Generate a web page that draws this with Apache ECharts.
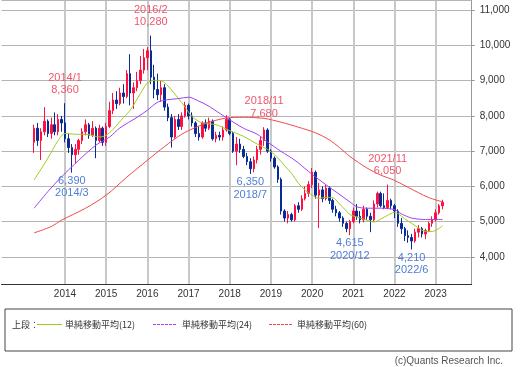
<!DOCTYPE html>
<html><head><meta charset="utf-8">
<script src="https://cdn.jsdelivr.net/npm/echarts@6/dist/echarts.min.js"></script>
<style>html,body{margin:0;padding:0;background:#fff}#c{width:529px;height:367px}</style>
</head><body><div id="c"></div>
<script>
// ---- categories (monthly, 2013/4 .. 2023/3) ----
function monthName(y, m) { return y + '/' + m; }
function monthRange(y0, m0, n) {
  const out = [];
  for (let k = 0; k < n; k++) { const t = m0 - 1 + k; out.push(monthName(y0 + Math.floor(t / 12), (t % 12) + 1)); }
  return out;
}
const months = monthRange(2013, 4, 120);
const padBefore = monthRange(2012, 7, 9);
const padAfter = monthRange(2023, 4, 8);

// ---- OHLC ----
const opens = [7250,7650,7300,7550,7850,7500,7750,7550,7900,7800,7350,7100,6900,7050,7300,7550,7750,7450,7650,7300,
7650,7250,7700,8150,8450,8350,8650,8550,9200,8650,8800,9000,9300,9650,9850,9100,8750,8600,8800,8250,
7950,7400,7900,7700,8000,8300,8000,7800,7500,7400,7800,7650,7850,7350,7450,7400,7600,7900,7500,7000,
7200,7050,6850,6700,6500,6750,7050,7300,7600,7000,6800,6550,6200,5300,5100,5200,5050,5450,5350,5650,
5800,6050,6400,5750,5900,5650,5950,5600,5350,5250,5100,4950,4800,5000,5300,5150,5050,5350,5150,5050,
5500,5800,5450,5400,5600,5450,5300,4950,4800,4600,4550,4450,4700,4800,4650,4750,4950,5050,5250,5450];
const closes = [7650,7300,7550,7850,7500,7750,7550,7900,7800,7350,7100,6900,7050,7300,7550,7750,7450,7650,7300,7650,
7250,7700,8150,8450,8350,8650,8550,9200,8650,8800,9000,9300,9650,9850,9100,8750,8600,8800,8250,7950,
7400,7900,7700,8000,8300,8000,7800,7500,7400,7800,7650,7850,7350,7450,7400,7600,7900,7500,7000,7200,
7050,6850,6700,6500,6750,7050,7300,7600,7000,6800,6550,6200,5300,5100,5200,5050,5450,5350,5650,5800,
6050,6400,5750,5900,5650,5950,5600,5350,5250,5100,4950,4800,5000,5300,5150,5050,5350,5150,5050,5500,
5800,5450,5400,5600,5450,5300,4950,4800,4600,4550,4450,4700,4800,4650,4750,4950,5050,5250,5450,5550];
const highs = [7750,7800,7650,8250,7900,7950,8100,8050,8000,8360,7500,7200,7200,7350,7650,7900,7800,7850,7700,7750,
7700,7800,8400,8650,8700,8800,8900,9300,9750,8950,9250,9700,9900,9950,10280,9450,9200,9000,8900,8350,
8050,8000,8050,8100,8400,8350,8100,7850,7700,7850,7900,7950,7900,7550,7550,7700,8020,7950,7550,7400,
7350,7150,6950,6800,6850,7150,7400,7680,7650,7050,6850,6600,6250,5350,5300,5250,5500,5550,5750,6000,
6150,6520,6450,6100,6000,6050,6000,5650,5450,5300,5150,5000,5050,5400,5500,5300,5450,5400,5250,5600,
5850,5850,5800,6050,5650,5500,5350,5100,4850,4750,4650,4800,4900,4850,4800,5000,5150,5350,5500,5620];
const lows = [6950,7150,6750,7450,7400,7350,7450,7450,7550,7250,6950,6390,6650,6900,7200,7450,7350,7400,6800,7250,
7150,7150,7650,8050,8200,8300,8350,8500,8300,8200,8700,8900,9200,9300,8900,8500,8450,8400,8150,7850,
7100,7350,7600,7600,7950,7900,7700,7400,7300,7350,7550,7600,7300,7250,7300,7300,7550,7450,6950,6600,
6950,6800,6600,6350,6400,6650,6900,7150,6950,6700,6500,6100,5200,5000,4950,5000,5000,5250,5300,5600,
5700,5950,5650,4820,5550,5600,5500,5250,5150,5000,4850,4700,4615,4950,5050,4950,4980,5050,4700,5000,
5400,5400,5350,5350,5350,5100,4850,4650,4450,4400,4210,4400,4550,4550,4500,4700,4850,5000,5200,5350];

// ---- moving averages ----
const ma12 = [['2013/4',6180],['2013/8',6800],['2013/11',7300],['2014/1',7500],['2014/4',7480],['2014/8',7470],['2014/11',7400],
['2015/1',7450],['2015/3',7620],['2015/6',7950],['2015/8',8160],['2015/11',8640],['2016/1',8930],['2016/3',9010],['2016/5',9000],
['2016/7',8850],['2016/10',8500],['2016/12',8250],['2017/2',7980],['2017/5',7800],['2017/9',7750],['2018/1',7580],['2018/5',7420],
['2018/9',7200],['2018/12',7050],['2019/2',6900],['2019/4',6700],['2019/5',6580],['2019/7',6370],['2019/9',6090],['2019/11',5890],
['2020/1',5750],['2020/3',5660],['2020/5',5690],['2020/7',5680],['2020/9',5500],['2020/11',5300],['2020/12',5200],['2021/3',5100],
['2021/5',5040],['2021/7',4990],['2021/9',5070],['2021/11',5180],['2022/1',5260],['2022/2',5230],['2022/4',5080],['2022/6',4950],
['2022/8',4820],['2022/10',4720],['2022/12',4720],['2023/3',4880]];
const ma24 = [['2013/4',5380],['2013/8',5850],['2013/12',6270],['2014/5',6740],['2014/10',7170],['2015/2',7400],['2015/5',7660],
['2015/10',7960],['2016/1',8160],['2016/4',8390],['2016/7',8460],['2016/10',8490],['2017/1',8530],['2017/4',8420],['2017/7',8270],
['2017/12',7950],['2018/5',7650],['2018/9',7480],['2018/12',7260],['2019/4',6990],['2019/8',6740],['2019/12',6420],['2020/4',6120],
['2020/8',5840],['2020/12',5560],['2021/2',5420],['2021/5',5380],['2021/9',5380],['2022/1',5340],['2022/3',5220],['2022/6',5100],
['2022/10',5060],['2023/3',5060]];
const ma60 = [['2013/4',4680],['2013/9',4860],['2013/12',5040],['2014/7',5380],['2015/1',5750],['2015/7',6260],['2016/1',6740],
['2016/6',7130],['2016/11',7480],['2017/3',7670],['2017/7',7820],['2017/12',7940],['2018/5',7960],['2018/11',7930],['2019/4',7820],
['2019/9',7680],['2020/2',7520],['2020/6',7320],['2020/9',7100],['2020/12',6850],['2021/5',6520],['2021/9',6320],['2022/1',6170],
['2022/5',5970],['2022/8',5820],['2022/11',5680],['2023/3',5560]];

// ---- annotations ----
const highMarks = [['2014/1',8360],['2016/2',10280],['2018/11',7680],['2021/11',6050]];
const lowMarks = [['2014/3',6390],['2018/7',6350],['2020/12',4615],['2022/6',4210]];

const seriesNames = ['単純移動平均(12)','単純移動平均(24)','単純移動平均(60)'];
const maColors = ['#9acd1e','#a040f0','#f04848'];

const cats = padBefore.concat(months, padAfter);
const candleData = cats.map(c => {
  const k = months.indexOf(c);
  return k < 0 ? '-' : [opens[k], closes[k], lows[k], highs[k]];
});
const fmt = v => v.toLocaleString('en-US');
const isYearStart = (idx, v) => { const p = String(v).split('/'); return p[1] === '1' && +p[0] >= 2014 && +p[0] <= 2023; };
const numFont = 'Liberation Sans';
const jpFont = 'Noto Sans CJK JP';

// legend drawn as graphic (box, sample lines, texts)
const legendY = 324.5;
const legendX = [[37, 62, 65], [153, 177, 182], [269, 293, 297]];
const legendGraphic = [
  {type: 'rect', shape: {x: 5, y: 309, width: 507, height: 42}, style: {fill: 'none', stroke: '#444', lineWidth: 1}},
  {type: 'text', x: 12, y: legendY, style: {text: '上段：', fontSize: 9, fill: '#333', fontFamily: jpFont, textVerticalAlign: 'middle'}}
];
seriesNames.forEach((n, k) => {
  legendGraphic.push({type: 'line', shape: {x1: legendX[k][0], y1: legendY, x2: legendX[k][1], y2: legendY},
    style: {stroke: maColors[k], lineWidth: 1, lineDash: k === 0 ? null : [3, 1]}});
  legendGraphic.push({type: 'text', x: legendX[k][2], y: legendY,
    style: {text: n, fontSize: 9, fill: '#333', fontFamily: jpFont, textVerticalAlign: 'middle'}});
});
legendGraphic.push({type: 'text', right: 26, top: 356, style: {text: '(c)Quants Research Inc.', fontSize: 10, fill: '#555', fontFamily: numFont}});

const chart = echarts.init(document.getElementById('c'), null, {renderer: 'canvas'});
chart.setOption({
  animation: false,
  grid: {left: 1.5, right: 57.3, top: 0.7, bottom: 82.7, containLabel: false},
  xAxis: {
    type: 'category', data: cats, boundaryGap: true,
    axisLine: {show: true, lineStyle: {color: '#333', width: 1}},
    axisTick: {show: false},
    axisLabel: {interval: isYearStart, formatter: v => v.split('/')[0], fontSize: 10, color: '#333', margin: 5, fontFamily: numFont},
    splitLine: {show: true, interval: isYearStart, alignWithLabel: true, lineStyle: {color: '#c8c8c8', width: 2}}
  },
  yAxis: {
    type: 'value', position: 'right', min: 3220, max: 11270, splitNumber: 8,
    axisLine: {show: true, lineStyle: {color: '#999'}},
    axisTick: {show: true, length: 3, lineStyle: {color: '#999'}},
    axisLabel: {showMinLabel: false, showMaxLabel: false, formatter: v => fmt(v), fontSize: 10, color: '#333', margin: 8, fontFamily: numFont},
    splitLine: {show: true, lineStyle: {color: '#b4b4b4', width: 1}}
  },
  graphic: legendGraphic,
  series: [
    {
      type: 'candlestick', data: candleData, barWidth: 2,
      itemStyle: {color: '#ff1040', color0: '#0a2a96', borderColor: '#ff1040', borderColor0: '#0a2a96', borderWidth: 1},
      markPoint: {
        symbol: 'circle', symbolSize: 0, silent: true,
        label: {show: true, fontSize: 11, lineHeight: 12.5, fontFamily: numFont},
        data: highMarks.map(([m, v]) => ({coord: [m, v], value: v,
          label: {position: 'top', distance: 7, color: '#f0566c', formatter: m + '\n' + fmt(v)}}))
          .concat(lowMarks.map(([m, v]) => ({coord: [m, v], value: v,
          label: {position: 'bottom', distance: 2, color: '#4f7ed4', formatter: fmt(v) + '\n' + m}})))
      }
    },
    {name: seriesNames[0], type: 'line', data: ma12, symbol: 'none', smooth: 0.3, connectNulls: true, lineStyle: {color: maColors[0], width: 1}},
    {name: seriesNames[1], type: 'line', data: ma24, symbol: 'none', smooth: 0.3, connectNulls: true, lineStyle: {color: maColors[1], width: 1}},
    {name: seriesNames[2], type: 'line', data: ma60, symbol: 'none', smooth: 0.3, connectNulls: true, lineStyle: {color: maColors[2], width: 1}}
  ]
});
</script></body></html>
